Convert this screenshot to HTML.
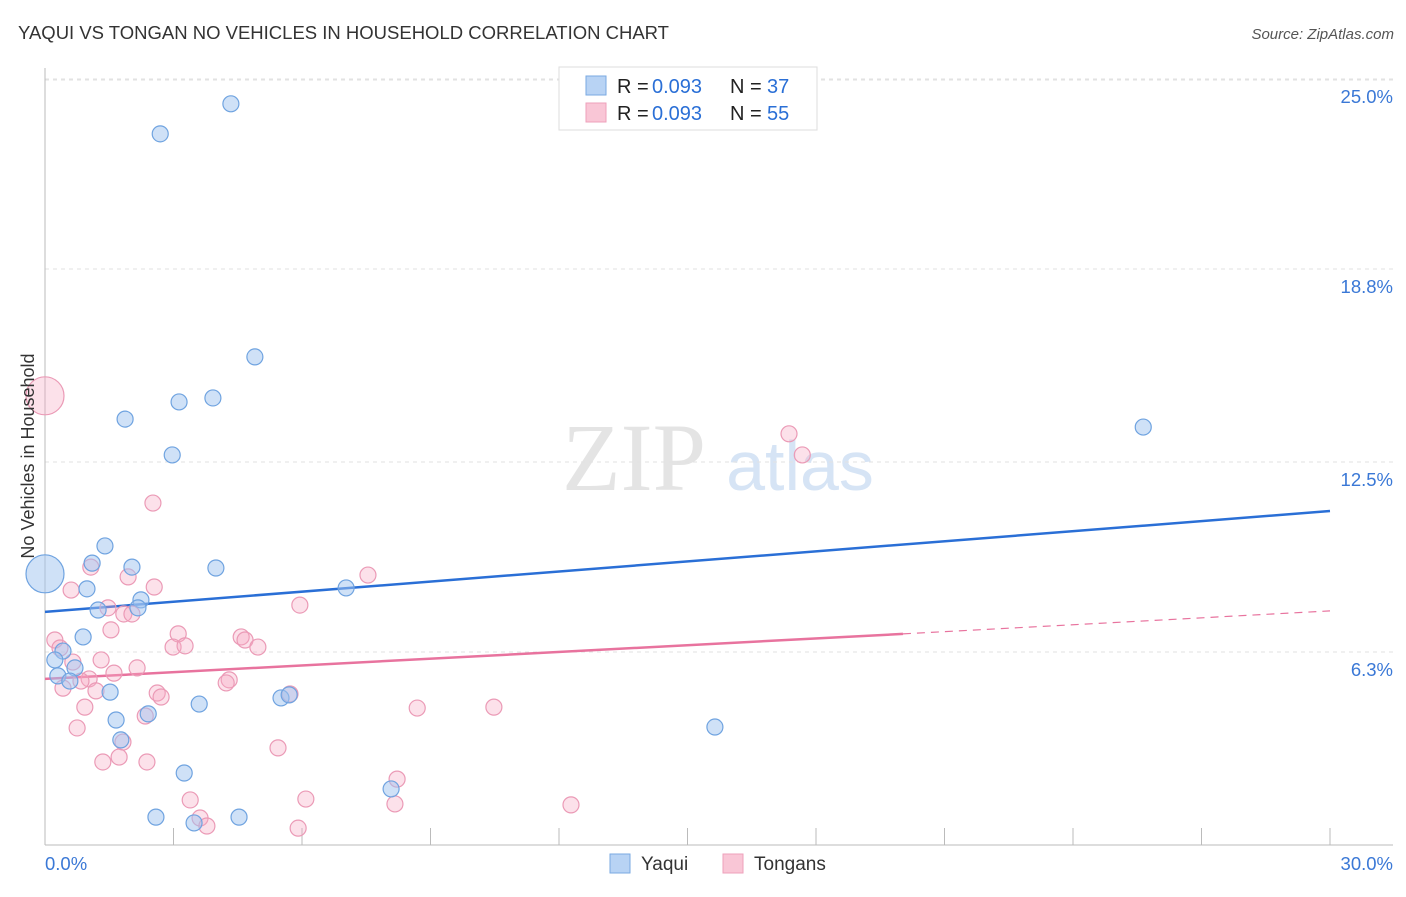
<!DOCTYPE html>
<html><head><meta charset="utf-8"><style>
body{margin:0;background:#fff;font-family:"Liberation Sans",sans-serif;}
svg text{font-family:"Liberation Sans",sans-serif;}
</style></head><body>
<svg id="chart" width="1406" height="892">
<text x="18" y="39" font-size="18" fill="#333" textLength="651" lengthAdjust="spacingAndGlyphs">YAQUI VS TONGAN NO VEHICLES IN HOUSEHOLD CORRELATION CHART</text>
<text x="1394" y="39" font-size="15" fill="#555" font-style="italic" text-anchor="end">Source: ZipAtlas.com</text>
<text x="634" y="490" font-size="96" fill="#e4e4e4" text-anchor="middle" style="font-family:'Liberation Serif',serif">ZIP</text>
<text x="800" y="490" font-size="70" fill="#d6e4f5" text-anchor="middle">atlas</text>
<g id="grid"></g><g id="axes"></g><g id="trend"></g><g id="pts"></g>
<text transform="translate(34,456) rotate(-90)" font-size="18" fill="#333" text-anchor="middle">No Vehicles in Household</text>
<g>
<rect x="559" y="67" width="258" height="63" fill="#fff" stroke="#ddd"/>
<rect x="586" y="76" width="20" height="19" fill="#b8d3f4" stroke="#7aa9e2"/>
<rect x="586" y="103" width="20" height="19" fill="#f9c6d6" stroke="#eea0bb"/>
<text x="617" y="93" font-size="20" fill="#222">R =</text>
<text x="652" y="93" font-size="20" fill="#2a6fd6">0.093</text>
<text x="730" y="93" font-size="20" fill="#222">N =</text>
<text x="767" y="93" font-size="20" fill="#2a6fd6">37</text>
<text x="617" y="120" font-size="20" fill="#222">R =</text>
<text x="652" y="120" font-size="20" fill="#2a6fd6">0.093</text>
<text x="730" y="120" font-size="20" fill="#222">N =</text>
<text x="767" y="120" font-size="20" fill="#2a6fd6">55</text>
</g>
<g>
<rect x="610" y="854" width="20" height="19" fill="#b8d3f4" stroke="#7aa9e2"/>
<text x="641" y="870" font-size="19" fill="#333">Yaqui</text>
<rect x="723" y="854" width="20" height="19" fill="#f9c6d6" stroke="#eea0bb"/>
<text x="754" y="870" font-size="19" fill="#333">Tongans</text>
</g>
</svg>
<script>
const yTicks=[6.3,12.5,18.8,25.0];
const yTickLabels=["6.3%","12.5%","18.8%","25.0%"];
const xTickLabels=["0.0%","30.0%"];
const yaquiX=[4.34,2.69,4.90,3.92,3.13,1.87,2.97,25.64,1.40,1.10,2.03,3.99,0,0.98,7.03,2.24,1.24,2.17,0.89,0.42,0.23,0.70,0.30,0.58,1.52,5.51,5.70,3.60,2.41,1.66,1.77,15.64,3.25,8.08,2.59,3.48,4.53];
const yaquiY=[24.19,23.21,15.93,14.59,14.46,13.90,12.73,13.64,9.76,9.20,9.07,9.04,8.85,8.36,8.39,8.00,7.67,7.74,6.79,6.33,6.04,5.78,5.52,5.35,4.99,4.80,4.90,4.60,4.28,4.08,3.43,3.85,2.35,1.83,0.91,0.72,0.91];
const yaquiSize=[8,8,8,8,8,8,8,8,8,8,8,8,19,8,8,8,8,8,8,8,8,8,8,8,8,8,8,8,8,8,8,8,8,8,8,8,8];
const tonganX=[0,17.37,17.68,2.52,7.54,1.07,1.94,2.55,0.61,5.95,1.47,1.84,2.03,1.54,3.11,0.23,0.35,4.58,4.67,2.99,3.27,4.97,1.31,0.65,2.15,1.61,1.03,0.42,0.84,4.30,4.23,2.62,2.71,1.19,5.72,0.93,8.69,10.48,2.34,1.82,0.75,5.44,1.73,1.35,2.38,8.22,3.39,6.09,8.17,12.28,3.62,3.78,5.91];
const tonganY=[14.66,13.42,12.73,11.16,8.81,9.07,8.75,8.42,8.32,7.83,7.74,7.54,7.54,7.02,6.89,6.69,6.43,6.79,6.69,6.46,6.50,6.46,6.04,5.97,5.78,5.61,5.42,5.12,5.35,5.39,5.29,4.96,4.83,5.03,4.93,4.50,4.47,4.50,4.21,3.36,3.82,3.17,2.87,2.71,2.71,2.15,1.47,1.50,1.34,1.31,0.88,0.62,0.55];
const yaquiTrend=[[0,7.61],[30,10.90]];
const tonganTrendSolid=[[0,5.42],[20.03,6.89]];
const tonganTrendDash=[[20.03,6.89],[30,7.64]];
const NS="http://www.w3.org/2000/svg";
const X=v=>45+v*(1285/30), Y=v=>845-v*30.64;
function mk(tag,attrs,parent){const e=document.createElementNS(NS,tag);for(const k in attrs)e.setAttribute(k,attrs[k]);document.getElementById(parent).appendChild(e);return e;}
mk('line',{x1:45,x2:1393,y1:80,y2:80,stroke:'#e2e2e2','stroke-dasharray':'4,4'},'grid');
yTicks.forEach((t,i)=>{
 const g=mk('line',{x1:45,x2:1393,y1:Y(t),y2:Y(t),stroke:'#e2e2e2','stroke-dasharray':'4,4'},'grid');
 
 
 const tx=mk('text',{x:1393,y:Y(t)+24,'font-size':18.5,fill:'#3a78d6','text-anchor':'end'},'axes');
 tx.textContent=yTickLabels[i];
 
 
});
mk('line',{x1:45,x2:45,y1:68,y2:845,stroke:'#bbb'},'axes');
mk('line',{x1:45,x2:1393,y1:845,y2:845,stroke:'#bbb'},'axes');
for(let i=1;i<=10;i++){const t=mk('line',{x1:X(i*3),x2:X(i*3),y1:828,y2:845,stroke:'#bbb'},'axes');}
[[0,'start',45],[30,'end',1393]].forEach((a,i)=>{const t=mk('text',{x:a[2],y:870,'font-size':18.5,fill:'#3a78d6','text-anchor':a[1]},'axes');t.textContent=xTickLabels[i];});
function line(p,col,dash,name){const l=mk('line',{x1:X(p[0][0]),y1:Y(p[0][1]),x2:X(p[1][0]),y2:Y(p[1][1]),stroke:col,'stroke-width':dash?1.2:2.5},'trend');if(dash)l.setAttribute('stroke-dasharray','8,6');}
tonganX.forEach((x,i)=>{const c=mk('circle',{cx:X(x),cy:Y(tonganY[i]),r:i==0?19:8,fill:'rgba(246,170,196,0.35)',stroke:'#eb9ab6','stroke-width':1.2},'pts');});
yaquiX.forEach((x,i)=>{const c=mk('circle',{cx:X(x),cy:Y(yaquiY[i]),r:yaquiSize[i],fill:'rgba(160,196,240,0.5)',stroke:'#6fa3e0','stroke-width':1.2},'pts');});
line(yaquiTrend,'#2a6fd6',false,'yaqui-trendline');
line(tonganTrendSolid,'#e8739e',false,'tongan-trendline');
line(tonganTrendDash,'#e8739e',true,'tongan-trendline-extension');
</script>
</body></html>
